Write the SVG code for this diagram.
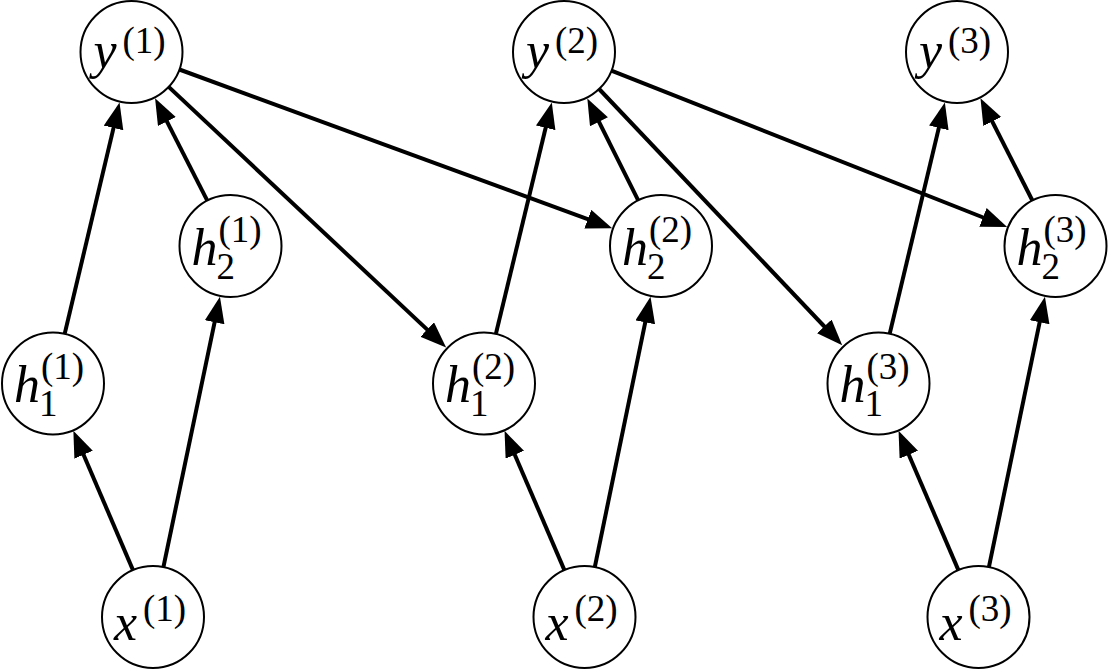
<svg xmlns="http://www.w3.org/2000/svg" width="1108" height="670" viewBox="0 0 1108 670">
<defs>
<marker id="arr" markerUnits="userSpaceOnUse" markerWidth="28" markerHeight="22" refX="18" refY="10" orient="auto">
<path d="M0,0 L26,10 L0,20 z" fill="#000"/>
</marker>
<style>
.n{fill:#fff;stroke:#000;stroke-width:2}
.e line{stroke:#000;stroke-width:4;marker-end:url(#arr)}
.m{font-family:"Liberation Serif",serif;font-style:italic;font-size:52px;fill:#000}
.s{font-family:"Liberation Serif",serif;font-size:37px;fill:#000}
</style>
</defs>
<rect width="1108" height="670" fill="#fff"/>
<g id="connectors" class="e">
<line x1="64.8" y1="333.4" x2="117.7" y2="110.4"/>
<line x1="207.3" y1="200.6" x2="158.7" y2="105.4"/>
<line x1="133.0" y1="570.1" x2="76.5" y2="438.2"/>
<line x1="163.4" y1="567.1" x2="218.3" y2="304.7"/>
<line x1="168.7" y1="86.9" x2="440.3" y2="341.9"/>
<line x1="179.4" y1="69.5" x2="604.7" y2="225.4"/>
<line x1="496.0" y1="333.4" x2="549.9" y2="110.3"/>
<line x1="638.2" y1="200.4" x2="590.9" y2="105.7"/>
<line x1="564.4" y1="570.1" x2="507.7" y2="438.2"/>
<line x1="594.8" y1="567.1" x2="648.9" y2="304.7"/>
<line x1="599.1" y1="89.0" x2="836.7" y2="339.5"/>
<line x1="611.4" y1="70.7" x2="999.7" y2="224.0"/>
<line x1="889.8" y1="333.4" x2="943.0" y2="110.4"/>
<line x1="1032.4" y1="200.5" x2="984.1" y2="105.5"/>
<line x1="958.4" y1="570.1" x2="901.7" y2="438.2"/>
<line x1="988.9" y1="567.1" x2="1043.3" y2="304.7"/>
</g>
<g id="y1"><circle class="n" cx="131.5" cy="52" r="51"/><text class="m" x="93.5" y="68">y</text><text class="s" x="122.5" y="53">(1)</text></g>
<g id="y2"><circle class="n" cx="564" cy="52" r="51"/><text class="m" x="526" y="68">y</text><text class="s" x="555" y="53">(2)</text></g>
<g id="y3"><circle class="n" cx="957" cy="52" r="51"/><text class="m" x="919" y="68">y</text><text class="s" x="948" y="53">(3)</text></g>
<g id="h2_1"><circle class="n" cx="230.5" cy="246" r="51"/><text class="m" x="191.5" y="265">h</text><text class="s" x="218.5" y="242">(1)</text><text class="s" x="216.5" y="279">2</text></g>
<g id="h2_2"><circle class="n" cx="661" cy="246" r="51"/><text class="m" x="622" y="265">h</text><text class="s" x="649" y="242">(2)</text><text class="s" x="647" y="279">2</text></g>
<g id="h2_3"><circle class="n" cx="1055.5" cy="246" r="51"/><text class="m" x="1016.5" y="265">h</text><text class="s" x="1043.5" y="242">(3)</text><text class="s" x="1041.5" y="279">2</text></g>
<g id="h1_1"><circle class="n" cx="53" cy="383.5" r="51"/><text class="m" x="14" y="402">h</text><text class="s" x="41" y="379">(1)</text><text class="s" x="39" y="416">1</text></g>
<g id="h1_2"><circle class="n" cx="484" cy="383.5" r="51"/><text class="m" x="445" y="402">h</text><text class="s" x="472" y="379">(2)</text><text class="s" x="470" y="416">1</text></g>
<g id="h1_3"><circle class="n" cx="878.5" cy="383.5" r="51"/><text class="m" x="839.5" y="402">h</text><text class="s" x="866.5" y="379">(3)</text><text class="s" x="864.5" y="416">1</text></g>
<g id="x1"><circle class="n" cx="153" cy="617" r="51"/><text class="m" x="114" y="640">x</text><text class="s" x="143" y="621">(1)</text></g>
<g id="x2"><circle class="n" cx="584.5" cy="617" r="51"/><text class="m" x="545.5" y="640">x</text><text class="s" x="574.5" y="621">(2)</text></g>
<g id="x3"><circle class="n" cx="978.5" cy="617" r="51"/><text class="m" x="939.5" y="640">x</text><text class="s" x="968.5" y="621">(3)</text></g>
</svg>
